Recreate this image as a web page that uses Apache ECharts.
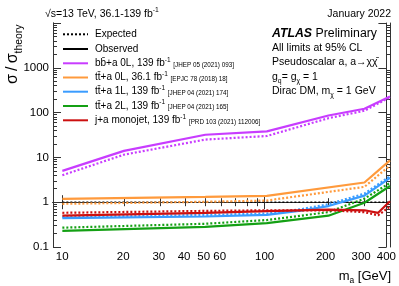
<!DOCTYPE html>
<html><head><meta charset="utf-8">
<script src="https://cdn.jsdelivr.net/npm/echarts@6/dist/echarts.min.js"></script>
<style>html,body{margin:0;padding:0;background:#fff}#c{width:399px;height:286px}</style>
</head><body><div id="c"></div>
<script>
// ---- data ----
const massBB = [10, 20, 50, 100, 200, 300, 400];
const obsBB  = [5.0, 14, 32, 38, 86, 122, 230];
const expBB  = [4.0, 11.5, 25, 30, 75, 110, 220];
const massTT0 = [10, 50, 100, 300, 400];
const obsTT0  = [1.19, 1.31, 1.38, 2.75, 8.6];
const expTT0  = [0.92, 1.02, 1.09, 2.2, 6.6];
const massTT1 = [10, 50, 100, 150, 200, 300, 400];
const obsTT1  = [0.44, 0.48, 0.52, 0.66, 0.82, 1.4, 3.5];
const expTT1  = [0.47, 0.52, 0.56, 0.71, 0.9, 1.55, 3.8];
const massTT2 = [10, 50, 100, 200, 300, 400];
const obsTT2  = [0.23, 0.28, 0.34, 0.5, 0.97, 2.3];
const expTT2  = [0.27, 0.33, 0.40, 0.6, 1.2, 2.7];
const massMJ = [10, 50, 100, 200, 300, 350, 400];
const obsMJ  = [0.50, 0.58, 0.63, 0.68, 0.66, 0.58, 1.05];
const expMJ  = [0.58, 0.64, 0.66, 0.66, 0.60, 0.51, 0.80];
const refMass = [10, 400];
const refVal  = [1, 1];

const xLabelTicks = [10, 20, 30, 40, 50, 60, 100, 200, 300, 400];
const xMajorTicks = [10, 100];
const xMinorTicks = [20, 30, 40, 50, 60, 70, 80, 90, 200, 300, 400];
const yLabelTicks = [0.1, 1, 10, 100, 1000];
const yMajorTicks = [0.1, 1, 10, 100, 1000, 10000];
const yMinorTicks = [0.2,0.3,0.4,0.5,0.6,0.7,0.8,0.9, 2,3,4,5,6,7,8,9, 20,30,40,50,60,70,80,90,
                     200,300,400,500,600,700,800,900, 2000,3000,4000,5000,6000,7000,8000,9000];
const xMin = 9, xMax = 400, yMin = 0.1, yMax = 10000;

const legendLabels = [
  'bb\u0304+a 0L, 139 fb', 'tt\u0304+a 0L, 36.1 fb', 'tt\u0304+a 1L, 139 fb',
  'tt\u0304+a 2L, 139 fb', 'j+a monojet, 139 fb'];
const legendRefs = ['[JHEP 05 (2021) 093]', '[EPJC 78 (2018) 18]', '[JHEP 04 (2021) 174]',
  '[JHEP 04 (2021) 165]', '[PRD 103 (2021) 112006]'];
const colors = ['#c83cff', '#ff9a3c', '#3a9cff', '#14a014', '#cc1010'];

// ---- chart ----
const F = 'Liberation Sans, Arial, Helvetica, sans-serif';
const L = Math.log10;
const lineCol = '#333';
const fmt = v => String(Number(Math.pow(10, v).toPrecision(3)));
const G = {left: 53, right: 9, top: 23, bottom: 39};

function decoX(gi, pos, ticks, len, labels) {
  return {type: 'value', gridIndex: gi, position: pos, min: L(xMin), max: L(xMax),
    axisLine: {show: true, lineStyle: {color: lineCol, width: 1}},
    axisTick: {show: true, inside: true, length: len, customValues: ticks.map(L), lineStyle: {color: lineCol, width: 1}},
    axisLabel: labels ? {show: true, customValues: labels.map(L), formatter: fmt, margin: 4,
      fontFamily: F, fontSize: 11.5, color: '#000'} : {show: false},
    splitLine: {show: false}};
}
function decoY(gi, pos, ticks, len, labels) {
  return {type: 'value', gridIndex: gi, position: pos, min: L(yMin), max: L(yMax),
    axisLine: {show: true, lineStyle: {color: lineCol, width: 1}},
    axisTick: {show: true, inside: true, length: len, customValues: ticks.map(L), lineStyle: {color: lineCol, width: 1}},
    axisLabel: labels ? {show: true, customValues: labels.map(L), formatter: fmt, margin: 4,
      fontFamily: F, fontSize: 11.5, color: '#000'} : {show: false},
    splitLine: {show: false}};
}

const pts = (m, v) => m.map((x, i) => [x, v[i]]);
function line(m, v, color, dashed, w) {
  return {type: 'line', xAxisIndex: 0, yAxisIndex: 0, data: pts(m, v), symbol: 'none',
    silent: true, animation: false,
    lineStyle: {color: color, width: w || 2.2, type: dashed ? [2, 2] : 'solid', cap: 'butt'}};
}

const series = [
  line(refMass, refVal, '#000', true, 1.4),
  line(massBB, expBB, colors[0], true), line(massBB, obsBB, colors[0], false),
  line(massTT0, expTT0, colors[1], true), line(massTT0, obsTT0, colors[1], false),
  line(massTT1, expTT1, colors[2], true), line(massTT1, obsTT1, colors[2], false),
  line(massTT2, expTT2, colors[3], true), line(massTT2, obsTT2, colors[3], false),
  line(massMJ, expMJ, colors[4], true), line(massMJ, obsMJ, colors[4], false)
];

function rich(fs) {
  return {
    m:   {fontFamily: F, fontSize: fs, lineHeight: fs * 1.4, fill: '#000'},
    b:   {fontFamily: F, fontSize: fs, lineHeight: fs * 1.4, fill: '#000', fontWeight: 'bold', fontStyle: 'italic'},
    sup: {fontFamily: F, fontSize: fs * 0.65, lineHeight: fs * 0.85, verticalAlign: 'top', fill: '#000'},
    sub: {fontFamily: F, fontSize: fs * 0.65, lineHeight: fs * 0.85, verticalAlign: 'bottom', fill: '#000'},
    ref: {fontFamily: F, fontSize: 6.3, verticalAlign: 'middle', padding: [3, 0, 0, 0], fill: '#000'}
  };
}
function txt(x, y, text, fs, align, extra) {
  return Object.assign({type: 'text', x: x, y: y, silent: true,
    style: {text: text, rich: rich(fs), align: align || 'left', verticalAlign: 'middle', fontFamily: F, fontSize: fs}}, extra || {});
}

const graphics = [];
const legY = [34.3, 49, 63.3, 77.5, 91.7, 106, 120.3];
graphics.push({type: 'line', silent: true, shape: {x1: 63, y1: legY[0], x2: 88, y2: legY[0]}, style: {stroke: '#000', lineWidth: 2, lineDash: [2, 2]}});
graphics.push(txt(95, legY[0], '{m|Expected}', 10));
graphics.push({type: 'line', silent: true, shape: {x1: 63, y1: legY[1], x2: 88, y2: legY[1]}, style: {stroke: '#000', lineWidth: 2}});
graphics.push(txt(95, legY[1], '{m|Observed}', 10));
legendLabels.forEach((lab, i) => {
  const y = legY[i + 2];
  graphics.push({type: 'line', silent: true, shape: {x1: 63, y1: y, x2: 88, y2: y}, style: {stroke: colors[i], lineWidth: 2}});
  graphics.push(txt(95, y, '{m|' + lab + '}{sup|-1}{m| }{ref|' + legendRefs[i] + '}', 10));
});
graphics.push(txt(45, 14, '{m|\u221As=13 TeV, 36.1-139 fb}{sup|-1}', 10.5));
graphics.push(txt(391, 14, '{m|January 2022}', 10.5, 'right'));
graphics.push(txt(272, 34, '{b|ATLAS}{m| Preliminary}', 12.3));
graphics.push(txt(272, 48.5, '{m|All limits at 95% CL}', 10.5));
graphics.push(txt(272, 62.5, '{m|Pseudoscalar a, a\u2192\u03c7\u03c7\u0304}', 10.5));
graphics.push(txt(272, 77, '{m|g}{sub|q}{m|= g}{sub|\u03c7}{m| = 1}', 10.5));
graphics.push(txt(272, 91.5, '{m|Dirac DM, m}{sub|\u03c7}{m| = 1 GeV}', 10.5));
graphics.push(txt(391, 276, '{m|m}{sub|a}{m| [GeV]}', 13, 'right'));
graphics.push(txt(13, 84, '{m|\u03c3\u2009/\u2009\u03c3}{sub|theory}', 16, 'left', {rotation: Math.PI / 2}));

const option = {
  animation: false,
  backgroundColor: '#fff',
  grid: [Object.assign({}, G), Object.assign({}, G), Object.assign({}, G)],
  xAxis: [
    {type: 'log', logBase: 10, gridIndex: 0, min: xMin, max: xMax, show: false},
    decoX(1, 'bottom', xMajorTicks, 7, xLabelTicks),
    decoX(1, 'top', xMajorTicks, 7, null),
    decoX(2, 'bottom', xMinorTicks, 4, null),
    decoX(2, 'top', xMinorTicks, 4, null)
  ],
  yAxis: [
    {type: 'log', logBase: 10, gridIndex: 0, min: yMin, max: yMax, show: false},
    decoY(1, 'left', yMajorTicks, 8, yLabelTicks),
    decoY(1, 'right', yMajorTicks, 8, null),
    decoY(2, 'left', yMinorTicks, 4, null),
    decoY(2, 'right', yMinorTicks, 4, null)
  ],
  series: series,
  graphic: graphics
};
const chart = echarts.init(document.getElementById('c'), null, {renderer: 'canvas', width: 399, height: 286});
chart.setOption(option);
</script>
</body></html>
